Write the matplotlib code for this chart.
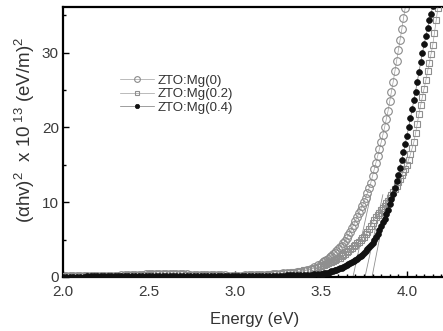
import matplotlib
matplotlib.use("Agg")
import matplotlib.pyplot as plt
from matplotlib.ticker import MultipleLocator

# ==============================
# Data
# ==============================

# shared low-energy grid (flat part + start of the rise)
energy_base = [2.00, 2.02, 2.04, 2.06, 2.08, 2.10, 2.12, 2.14, 2.16, 2.18,
               2.20, 2.22, 2.24, 2.26, 2.28, 2.30, 2.32, 2.34, 2.36, 2.38,
               2.40, 2.42, 2.44, 2.46, 2.48, 2.50, 2.52, 2.54, 2.56, 2.58,
               2.60, 2.62, 2.64, 2.66, 2.68, 2.70, 2.72, 2.74, 2.76, 2.78,
               2.80, 2.82, 2.84, 2.86, 2.88, 2.90, 2.92, 2.94, 2.96, 2.98,
               3.00, 3.02, 3.04, 3.06, 3.08, 3.10, 3.12,
               3.14, 3.16, 3.18, 3.20, 3.22, 3.24, 3.26, 3.28, 3.30, 3.32,
               3.34, 3.36, 3.38, 3.40, 3.42, 3.44, 3.46, 3.48]

mg0_base = [0.10, 0.10, 0.10, 0.11, 0.12, 0.12, 0.12, 0.13, 0.15, 0.15,
            0.15, 0.16, 0.18, 0.18, 0.18, 0.19, 0.20, 0.21, 0.22, 0.23,
            0.25, 0.28, 0.30, 0.33, 0.35, 0.38, 0.40, 0.40, 0.40, 0.41,
            0.42, 0.41, 0.40, 0.39, 0.38, 0.36, 0.35, 0.33, 0.32, 0.31,
            0.30, 0.29, 0.28, 0.26, 0.25, 0.24, 0.22, 0.21, 0.20, 0.20,
            0.20, 0.20, 0.20, 0.21, 0.22, 0.23, 0.24,
            0.25, 0.27, 0.30, 0.33, 0.36, 0.40, 0.44, 0.48, 0.52, 0.56,
            0.60, 0.65, 0.72, 0.82, 0.95, 1.10, 1.30, 1.55]

mg02_base = [0.10, 0.10, 0.10, 0.10, 0.10, 0.11, 0.12, 0.12, 0.12, 0.13,
             0.15, 0.15, 0.15, 0.16, 0.18, 0.19, 0.20, 0.20, 0.20, 0.21,
             0.22, 0.24, 0.25, 0.28, 0.30, 0.33, 0.35, 0.35, 0.35, 0.36,
             0.38, 0.37, 0.35, 0.35, 0.35, 0.34, 0.32, 0.31, 0.30, 0.29,
             0.28, 0.27, 0.25, 0.24, 0.22, 0.21, 0.20, 0.20, 0.20, 0.20,
             0.20, 0.20, 0.20, 0.21, 0.22, 0.23, 0.25,
             0.27, 0.30, 0.32, 0.35, 0.38, 0.42, 0.46, 0.50, 0.55, 0.60,
             0.66, 0.72, 0.80, 0.88, 0.97, 1.07, 1.18, 1.30]

mg04_base = [0.05, 0.05, 0.05, 0.05, 0.06, 0.06, 0.06, 0.07, 0.08, 0.08,
             0.08, 0.08, 0.08, 0.09, 0.10, 0.10, 0.10, 0.10, 0.10, 0.10,
             0.10, 0.10, 0.10, 0.11, 0.12, 0.12, 0.12, 0.12, 0.12, 0.12,
             0.12, 0.12, 0.12, 0.12, 0.12, 0.12, 0.12, 0.12, 0.12, 0.12,
             0.12, 0.12, 0.12, 0.12, 0.12, 0.12, 0.12, 0.12, 0.12, 0.12,
             0.12, 0.12, 0.12, 0.13, 0.14, 0.14, 0.14,
             0.14, 0.15, 0.15, 0.16, 0.17, 0.18, 0.19, 0.20, 0.21, 0.22,
             0.23, 0.24, 0.25, 0.27, 0.29, 0.31, 0.34, 0.38]

# absorption edge, ZTO:Mg(0)
energy_mg0 = [3.50, 3.51, 3.52, 3.53, 3.54, 3.55, 3.56, 3.57, 3.58, 3.59,
              3.60, 3.61, 3.62, 3.63, 3.64, 3.65, 3.66, 3.67, 3.68, 3.69,
              3.70, 3.71, 3.72, 3.73, 3.74, 3.75, 3.76, 3.77, 3.78, 3.79,
              3.80, 3.81, 3.82, 3.83, 3.84, 3.85, 3.86, 3.87, 3.88, 3.89,
              3.90, 3.91, 3.92, 3.93, 3.94, 3.95, 3.96, 3.97, 3.98, 3.99]
mg0_edge = [1.80, 1.95, 2.10, 2.25, 2.45, 2.65, 2.85, 3.05, 3.25, 3.45,
            3.70, 3.95, 4.20, 4.50, 4.80, 5.20, 5.60, 6.00, 6.50, 7.00,
            7.50, 8.00, 8.50, 9.00, 9.50, 10.0, 10.6, 11.2, 11.9, 12.6,
            13.5, 14.4, 15.3, 16.2, 17.1, 18.0, 19.0, 20.0, 21.1, 22.2,
            23.5, 24.8, 26.1, 27.5, 28.9, 30.3, 31.7, 33.1, 34.6, 36.0]

# absorption edge, ZTO:Mg(0.2)
energy_mg02 = [3.50, 3.51, 3.52, 3.53, 3.54, 3.55, 3.56, 3.57, 3.58, 3.59,
               3.60, 3.61, 3.62, 3.63, 3.64, 3.65, 3.66, 3.67, 3.68, 3.69,
               3.70, 3.71, 3.72, 3.73, 3.74, 3.75, 3.76, 3.77, 3.78, 3.79,
               3.80, 3.81, 3.82, 3.83, 3.84, 3.85, 3.86, 3.87, 3.88, 3.89,
               3.90, 3.91, 3.92, 3.93, 3.94, 3.95, 3.96, 3.97, 3.98, 3.99,
               4.00, 4.01, 4.02, 4.03, 4.04, 4.05, 4.06, 4.07, 4.08, 4.09,
               4.10, 4.11, 4.12, 4.13, 4.14, 4.15, 4.16, 4.17, 4.18]
mg02_edge = [1.45, 1.55, 1.65, 1.75, 1.85, 1.95, 2.05, 2.15, 2.25, 2.35,
             2.50, 2.60, 2.75, 2.90, 3.10, 3.30, 3.50, 3.70, 3.90, 4.10,
             4.30, 4.50, 4.70, 4.90, 5.15, 5.40, 5.70, 6.05, 6.45, 6.85,
             7.25, 7.65, 8.00, 8.30, 8.60, 8.90, 9.20, 9.50, 9.85, 10.2,
             10.5, 10.9, 11.3, 11.75, 12.2, 12.7, 13.1, 13.6, 14.1, 14.5,
             15.0, 15.7, 16.4, 17.2, 18.0, 19.2, 20.5, 21.8, 23.0, 24.1,
             25.2, 26.3, 27.5, 28.6, 29.8, 31.0, 32.6, 34.3, 36.0]

# absorption edge, ZTO:Mg(0.4)
energy_mg04 = [3.50, 3.51, 3.52, 3.53, 3.54, 3.55, 3.56, 3.57, 3.58, 3.59,
               3.60, 3.61, 3.62, 3.63, 3.64, 3.65, 3.66, 3.67, 3.68, 3.69,
               3.70, 3.71, 3.72, 3.73, 3.74, 3.75, 3.76, 3.77, 3.78, 3.79,
               3.80, 3.81, 3.82, 3.83, 3.84, 3.85, 3.86, 3.87, 3.88, 3.89,
               3.90, 3.91, 3.92, 3.93, 3.94, 3.95, 3.96, 3.97, 3.98, 3.99,
               4.00, 4.01, 4.02, 4.03, 4.04, 4.05, 4.06, 4.07, 4.08, 4.09,
               4.10, 4.11, 4.12, 4.13, 4.14, 4.15]
mg04_edge = [0.42, 0.46, 0.50, 0.55, 0.60, 0.68, 0.75, 0.82, 0.90, 0.98,
             1.06, 1.14, 1.23, 1.33, 1.45, 1.58, 1.72, 1.86, 2.00, 2.15,
             2.30, 2.45, 2.62, 2.80, 3.00, 3.20, 3.42, 3.70, 4.00, 4.30,
             4.60, 4.90, 5.30, 5.80, 6.30, 6.80, 7.30, 7.80, 8.40, 9.00,
             9.70, 10.4, 11.1, 11.9, 12.8, 13.7, 14.6, 15.6, 16.7, 17.8,
             18.9, 20.0, 21.2, 22.4, 23.6, 24.8, 26.1, 27.4, 28.7, 30.0,
             31.1, 32.2, 33.3, 34.3, 35.2, 36.2]

# linear extrapolations to the energy axis (band gap estimates)
fit_onset = [3.686, 3.756, 3.797]
fit_end = [3.79, 3.86, 3.89]
fit_top = [11.0, 11.0, 11.0]

labels = ["ZTO:Mg(0)", "ZTO:Mg(0.2)", "ZTO:Mg(0.4)"]

# ==============================
# Plot
# ==============================

plt.rcParams["font.family"] = ["Liberation Sans", "DejaVu Sans"]
plt.rcParams["mathtext.fontset"] = "custom"
plt.rcParams["mathtext.rm"] = "Liberation Sans"
plt.rcParams["mathtext.it"] = "Liberation Sans:italic"

fig = plt.figure(figsize=(4.43, 3.31), dpi=100)
ax = fig.add_axes([63 / 443, 54 / 331, 384 / 443, 270 / 331])

for x0, x1, top in zip(fit_onset, fit_end, fit_top):
    ax.plot([x0, x1], [0, top], color="#8f8f8f", lw=0.6, zorder=1)

ax.plot(energy_base + energy_mg0, mg0_base + mg0_edge,
        color="#a0a0a0", lw=0.5, marker="o", ms=5.5, mfc="none",
        mec="#8a8a8a", mew=0.8, label=labels[0], zorder=2)
ax.plot(energy_base + energy_mg02, mg02_base + mg02_edge,
        color="#a0a0a0", lw=0.5, marker="s", ms=4.2, mfc="none",
        mec="#8f8f8f", mew=0.8, label=labels[1], zorder=3)
ax.plot(energy_base + energy_mg04, mg04_base + mg04_edge,
        color="#777777", lw=0.5, marker="o", ms=4.2, mfc="#111111",
        mec="#111111", mew=0.5, label=labels[2], zorder=4)

ax.set_xlim(2.0, 4.233)
ax.set_ylim(0, 36.1)

ax.xaxis.set_major_locator(MultipleLocator(0.5))
ax.xaxis.set_minor_locator(MultipleLocator(0.05))
ax.yaxis.set_major_locator(MultipleLocator(10))
ax.yaxis.set_minor_locator(MultipleLocator(5))
ax.xaxis.set_major_formatter(plt.FuncFormatter(lambda v, p: f"{v:.1f}"))

ax.tick_params(which="both", direction="in", top=False, right=False,
               labelsize=11, labelcolor="#3a3a3a", width=1.0)
ax.tick_params(which="major", length=4)
ax.tick_params(which="minor", length=2.5)
ax.tick_params(axis="x", pad=6)
ax.tick_params(axis="y", pad=3)

for side in ["left", "bottom", "top"]:
    ax.spines[side].set_linewidth(1.6)
ax.spines["right"].set_visible(False)

ax.set_xlabel("Energy (eV)", fontsize=12, color="#333333", labelpad=9)
ax.set_ylabel(r"$\mathregular{(\alpha hv)^2\ \ x\ 10^{\ 13}\ (eV/m)^2}$",
              fontsize=13.5, color="#333333")
ax.yaxis.set_label_coords(-0.068, 0.545)

ax.legend(loc="upper left", bbox_to_anchor=(0.148, 0.75), frameon=False,
          fontsize=9.5, labelcolor="#333333", handlelength=2.6,
          handletextpad=0.3, labelspacing=0.1, borderpad=0,
          borderaxespad=0, markerscale=0.75)

fig.savefig("out.png", dpi=100)
plt.close(fig)
